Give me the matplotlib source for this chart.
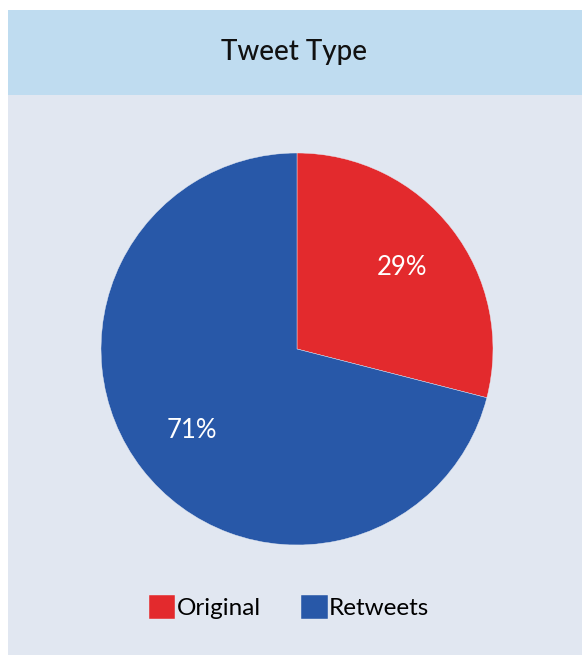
import matplotlib
matplotlib.use("Agg")
import matplotlib.pyplot as plt
from matplotlib.patches import Rectangle

labels = ["Original", "Retweets"]
values = [29, 71]
colors = ["#E32A2D", "#2858A8"]
title = "Tweet Type"

W, H = 582, 655
fig = plt.figure(figsize=(W / 100, H / 100), dpi=100)
fig.patch.set_facecolor("white")
plt.rcParams["font.family"] = ["Lato", "DejaVu Sans"]

def fx(x):
    return x / W

def fy(y):
    return 1 - y / H

# panel background
fig.patches.append(Rectangle((fx(8), fy(655)), fx(582 - 8), (655 - 10) / H,
                             transform=fig.transFigure, facecolor="#E1E7F1",
                             edgecolor="none", zorder=-2))
fig.patches.append(Rectangle((fx(8), fy(95)), fx(582 - 8), (95 - 10) / H,
                             transform=fig.transFigure, facecolor="#BFDCF0",
                             edgecolor="none", zorder=-1))
fig.text(fx(294), fy(52), title, ha="center", va="center", fontsize=20,
         color="#111111", fontweight="medium")

cx, cy, r = 297, 349, 196
ax = fig.add_axes([fx(cx - r), fy(cy + r), 2 * r / W, 2 * r / H])
ax.set_facecolor("none")
wedges, texts, autotexts = ax.pie(values, colors=colors, startangle=90, counterclock=False,
                                  autopct="%d%%", pctdistance=0.68,
                                  wedgeprops=dict(edgecolor="#E8ECF4", linewidth=0.3),
                                  textprops=dict(color="white", fontsize=18.5))
ax.set_xlim(-1, 1)
ax.set_ylim(-1, 1)
ax.axis("off")

fig.legend(wedges, labels, loc="center", bbox_to_anchor=(fx(289), fy(607)),
           ncol=2, frameon=False, fontsize=17.5, handlelength=1.1, handleheight=1.15,
           handletextpad=0.06, columnspacing=1.65, borderpad=0)

fig.savefig("out.png", dpi=100, facecolor=fig.get_facecolor())
